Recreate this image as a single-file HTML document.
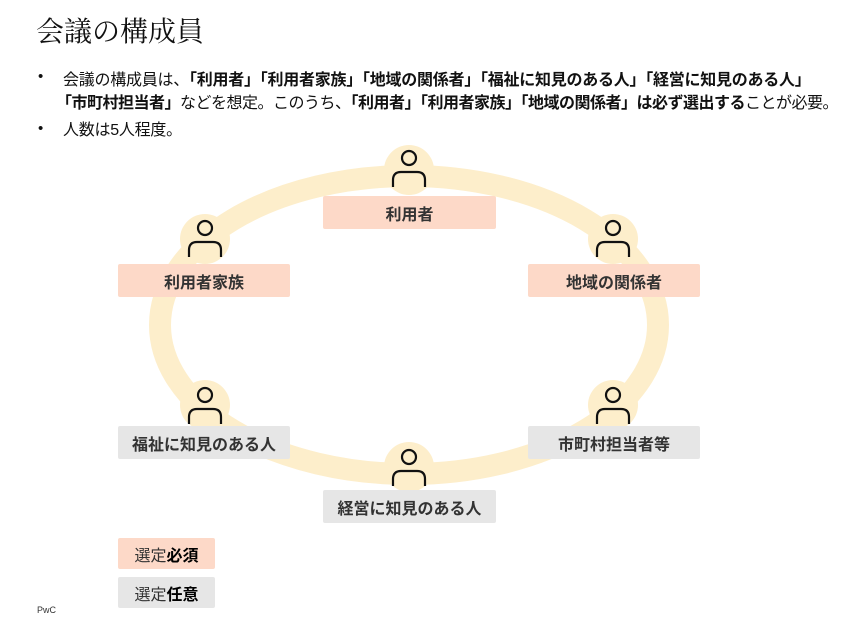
<!DOCTYPE html>
<html><head><meta charset="utf-8"><style>
body{margin:0;width:850px;height:619px;background:#fff;position:relative;overflow:hidden;font-family:"Liberation Sans","Noto Sans CJK JP",sans-serif;color:#111}
.t{position:absolute;left:36px;top:10px;font-size:28px;font-family:"Noto Serif CJK SC","Noto Sans CJK JP",serif;letter-spacing:0}
.l{position:absolute;left:63px;font-size:16px;white-space:nowrap;letter-spacing:-0.25px}
.d{position:absolute;left:38px;font-size:15px}
.b{position:absolute;background:#fdd9c8;color:#333;font-weight:bold;font-size:16px;display:flex;align-items:center;justify-content:center;border-radius:2px}
.g{background:#e6e6e6}
.pc{position:absolute;left:37px;top:605px;font-size:9px;color:#333}
</style></head><body>
<div class="t">会議の構成員</div>
<div class="d" style="top:68px">•</div>
<div class="l" style="top:66px">会議の構成員は、<b>「利用者」「利用者家族」「地域の関係者」「福祉に知見のある人」「経営に知見のある人」</b></div>
<div class="l" style="top:89px;left:56px;letter-spacing:-0.5px"><b>「市町村担当者」</b>などを想定。このうち、<b>「利用者」「利用者家族」「地域の関係者」は必ず選出する</b>ことが必要。</div>
<div class="d" style="top:120px">•</div>
<div class="l" style="top:116px">人数は5人程度。</div>
<svg width="850" height="619" style="position:absolute;left:0;top:0">
<ellipse cx="409" cy="325" rx="249" ry="149" fill="none" stroke="#fdeecb" stroke-width="22"/>
<g fill="#fdeecb">
<circle cx="409" cy="170" r="25"/><circle cx="205" cy="239" r="25"/><circle cx="613" cy="239" r="25"/>
<circle cx="205" cy="405" r="25"/><circle cx="613" cy="405" r="25"/><circle cx="409" cy="467" r="25"/>
</g>
<g fill="none" stroke="#111" stroke-width="2.2">
<g transform="translate(409,170)"><circle cx="0" cy="-12" r="7"/><path d="M-16 17 V10 Q-16 2 -8 2 H8 Q16 2 16 10 V17"/></g>
<g transform="translate(205,240)"><circle cx="0" cy="-12" r="7"/><path d="M-16 17 V10 Q-16 2 -8 2 H8 Q16 2 16 10 V17"/></g>
<g transform="translate(613,240)"><circle cx="0" cy="-12" r="7"/><path d="M-16 17 V10 Q-16 2 -8 2 H8 Q16 2 16 10 V17"/></g>
<g transform="translate(205,407)"><circle cx="0" cy="-12" r="7"/><path d="M-16 17 V10 Q-16 2 -8 2 H8 Q16 2 16 10 V17"/></g>
<g transform="translate(613,407)"><circle cx="0" cy="-12" r="7"/><path d="M-16 17 V10 Q-16 2 -8 2 H8 Q16 2 16 10 V17"/></g>
<g transform="translate(409,469)"><circle cx="0" cy="-12" r="7"/><path d="M-16 17 V10 Q-16 2 -8 2 H8 Q16 2 16 10 V17"/></g>
</g>
</svg>
<div class="b" style="left:323px;top:196px;width:173px;height:33px">利用者</div>
<div class="b" style="left:118px;top:264px;width:172px;height:33px">利用者家族</div>
<div class="b" style="left:528px;top:264px;width:172px;height:33px">地域の関係者</div>
<div class="b g" style="left:118px;top:426px;width:172px;height:33px">福祉に知見のある人</div>
<div class="b g" style="left:528px;top:426px;width:172px;height:33px">市町村担当者等</div>
<div class="b g" style="left:323px;top:490px;width:173px;height:33px">経営に知見のある人</div>
<div class="b" style="left:118px;top:538px;width:97px;height:31px;font-weight:normal"><span>選定<b style="color:#000">必須</b></span></div>
<div class="b g" style="left:118px;top:577px;width:97px;height:31px;font-weight:normal"><span>選定<b style="color:#000">任意</b></span></div>
<div class="pc">PwC</div>
</body></html>
